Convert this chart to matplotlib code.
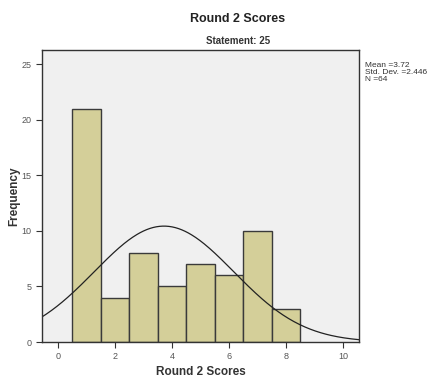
import matplotlib
matplotlib.use('Agg')
import matplotlib.pyplot as plt
import numpy as np

plt.rcParams['font.family'] = ['Liberation Sans', 'DejaVu Sans']

# histogram data
scores = [1, 2, 3, 4, 5, 6, 7, 8]
counts = [21, 4, 8, 5, 7, 6, 10, 3]
x_ticks = [0, 2, 4, 6, 8, 10]
y_ticks = [0, 5, 10, 15, 20, 25]

scores_arr = np.array(scores)
counts_arr = np.array(counts)
n = counts_arr.sum()
mean = (scores_arr * counts_arr).sum() / n
std = np.sqrt((counts_arr * (scores_arr - mean) ** 2).sum() / (n - 1))

fig = plt.figure(figsize=(4.35, 3.79), dpi=100)
ax = fig.add_axes([42 / 435, 37 / 379, 317 / 435, 292 / 379])
ax.set_facecolor('#f0f0f0')

ax.bar(scores, counts, width=1.0, color='#d4cf99', edgecolor='#3a3a3a', linewidth=1.0)

xs = np.linspace(-0.6, 10.6, 300)
pdf = n / (std * np.sqrt(2 * np.pi)) * np.exp(-0.5 * ((xs - mean) / std) ** 2)
ax.plot(xs, pdf, color='#222222', linewidth=0.9)

ax.set_xlim(-0.56, 10.56)
ax.set_ylim(0, 26.3)
ax.set_xticks(x_ticks)
ax.set_yticks(y_ticks)
ax.tick_params(labelsize=6.5, labelcolor='#555555', length=4, width=0.8, color='#333333')
for s in ax.spines.values():
    s.set_color('#333333')
    s.set_linewidth(1.0)

ax.set_xlabel('Round 2 Scores', fontsize=8.5, fontweight='bold', color='#333333', labelpad=3)
ax.set_ylabel('Frequency', fontsize=8.5, fontweight='bold', color='#333333')
ax.yaxis.set_label_coords(-0.07, 0.5)

fig.text(238 / 435, 1 - 19 / 379, 'Round 2 Scores', ha='center', va='center',
         fontsize=9, fontweight='bold', color='#222222')
fig.text(238 / 435, 1 - 41 / 379, 'Statement: 25', ha='center', va='center',
         fontsize=7, fontweight='bold', color='#333333')
fig.text(365 / 435, 1 - 62 / 379,
         'Mean =%.2f\nStd. Dev. =%.3f\nN =%d' % (mean, std, n),
         ha='left', va='top', fontsize=6, color='#333333', linespacing=1.0)

plt.savefig('out.png', dpi=100)
